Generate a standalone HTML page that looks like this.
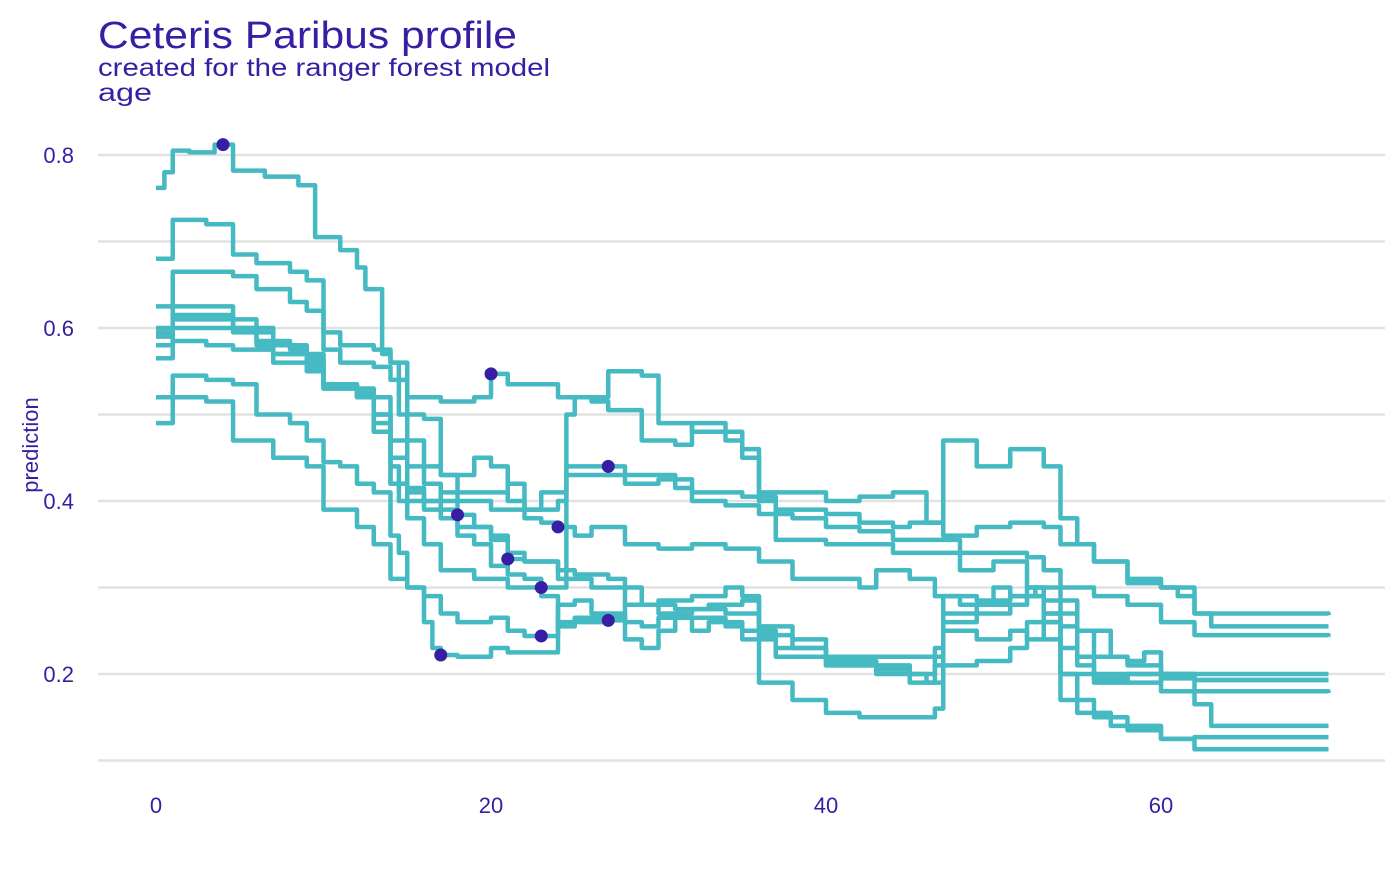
<!DOCTYPE html>
<html><head><meta charset="utf-8"><style>
body{margin:0;background:#fff;}
svg text{font-family:"Liberation Sans",Arial,sans-serif;fill:#371EA3;}
</style></head><body>
<svg id="chart" width="1400" height="866">
<text x="98" y="48" font-size="38" textLength="419" lengthAdjust="spacingAndGlyphs">Ceteris Paribus profile</text>
<text x="98" y="76" font-size="25" textLength="452" lengthAdjust="spacingAndGlyphs">created for the ranger forest model</text>
<text x="98" y="101" font-size="25" textLength="54" lengthAdjust="spacingAndGlyphs">age</text>
<text transform="translate(38,445) rotate(-90)" text-anchor="middle" font-size="22">prediction</text>
<g id="grid"></g><g id="lines"></g><g id="pts"></g><g id="ticks"></g>
</svg>
<script>
const yGrid=[0.1,0.2,0.3,0.4,0.5,0.6,0.7,0.8];
const yTickLabels=[0.2,0.4,0.6,0.8];
const xTickLabels=[0,20,40,60];
const obsAge=[4,17,23,27,18,21,24,27,23,20];
const obsPred=[0.812,0.222,0.244,0.262,0.384,0.333,0.370,0.440,0.300,0.547];
const s1=[[0,.762],[0.5,.78],[1,.805],[2,.803],[3.5,.812],[4.6,.782],[6.5,.775],[8.5,.765],[9.5,.705],[11,.69],[12,.67],[12.5,.645],[13.5,.57],[14,.56],[15,.52],[17,.515],[19,.52],[20,.547],[21,.535],[24,.52],[26,.515],[27,.505],[29,.47],[31,.465],[32,.49],[34,.47],[35,.45],[36,.41],[40,.4],[42,.405],[44,.41],[46,.375],[47,.47],[49,.44],[51,.46],[53,.44],[54,.38],[55,.35],[56,.33],[58,.305],[60,.3],[61,.29],[62,.27],[70,.268]];
const s2=[[0,.49],[1,.52],[3,.515],[4.6,.47],[7,.45],[9,.44],[10,.39],[12,.37],[13,.35],[14,.31],[15,.3],[16,.26],[16.5,.23],[17,.222],[18,.22],[20,.23],[21,.225],[24,.26],[25,.265],[28,.24],[29,.23],[30,.25],[31,.265],[34,.255],[35,.24],[37,.22],[40,.21],[43,.2],[46,.19],[47,.21],[49,.215],[51,.23],[52,.26],[53,.24],[54,.2],[55,.155],[57,.14],[58,.135],[60,.125],[62,.113],[70,.113]];
const s3=[[0,.52],[1,.545],[3,.54],[4.6,.535],[6,.5],[8,.49],[9,.47],[10,.445],[11,.44],[12,.42],[13,.41],[14,.36],[14.5,.34],[15,.3],[16,.29],[17,.27],[18,.26],[20,.265],[21,.25],[22,.244],[24,.28],[25,.285],[26,.27],[28,.26],[29,.255],[30,.265],[32,.25],[33,.26],[35,.25],[37,.23],[40,.21],[43,.205],[45,.19],[46.5,.23],[47,.26],[49,.27],[51,.28],[52,.29],[53,.26],[54,.17],[56,.15],[58,.14],[60,.125],[62,.127],[70,.127]];
const s4=[[0,.565],[1,.585],[3,.58],[4.6,.575],[7,.56],[9,.55],[10,.53],[12,.52],[13,.48],[14,.44],[14.5,.4],[15,.38],[16,.35],[17,.32],[19,.31],[21,.3],[23,.29],[24,.255],[25,.26],[27,.262],[28,.28],[30,.285],[32,.29],[34,.3],[35,.29],[36,.19],[38,.17],[40,.155],[42,.15],[46.5,.16],[47,.29],[49,.285],[51,.29],[52.5,.3],[54,.255],[55,.22],[56,.2],[58,.19],[60,.195],[62,.165],[63,.14],[70,.14]];
const s5=[[0,.6],[1,.625],[4.6,.6],[7,.57],[9,.565],[10,.53],[12,.52],[13,.5],[14,.47],[15,.44],[16,.42],[17,.4],[18,.384],[19,.37],[20,.36],[21,.34],[22,.33],[24,.32],[25,.315],[27,.31],[28,.3],[29,.28],[31,.275],[33,.28],[35,.285],[36,.245],[38,.24],[40,.22],[46,.22],[47,.25],[49,.24],[51,.25],[52,.24],[53,.26],[54,.2],[56,.19],[58,.2],[60,.18],[70,.178]];
const s6=[[0,.595],[1,.61],[4.6,.6],[6,.58],[8,.575],[9,.555],[10,.535],[12,.525],[13,.5],[14,.42],[15,.41],[16,.4],[17,.39],[18,.37],[20,.355],[21,.333],[22,.33],[24,.31],[26,.3],[28,.28],[30,.27],[32,.275],[34,.27],[36,.255],[38,.23],[40,.215],[43,.21],[45,.2],[46.5,.21],[47,.27],[49,.28],[52,.29],[53,.27],[54,.23],[55,.21],[56,.195],[58,.2],[62,.193],[70,.193]];
const s7=[[0,.68],[1,.725],[3,.72],[4.6,.685],[6,.675],[8,.665],[9,.655],[10,.595],[11,.58],[13,.575],[14,.56],[14.5,.5],[15,.47],[16,.44],[17,.43],[18,.4],[20,.39],[22,.38],[23,.375],[24,.37],[25,.36],[26,.37],[28,.35],[30,.345],[32,.35],[34,.345],[36,.33],[38,.31],[42,.3],[43,.32],[45,.31],[46.5,.29],[48,.28],[50,.3],[51,.29],[52,.3],[53,.27],[55,.25],[56,.22],[58,.21],[60,.2],[70,.2]];
const s8=[[0,.625],[1,.665],[3,.665],[4.6,.66],[6,.645],[8,.63],[9,.62],[10,.575],[11,.56],[13,.555],[14,.54],[15,.5],[16,.495],[17,.43],[19,.45],[20,.44],[21,.4],[22,.39],[24,.4],[24.5,.43],[27,.44],[28,.42],[30,.425],[32,.41],[35,.405],[37,.39],[40,.385],[42,.375],[44,.37],[45,.375],[47,.36],[49,.37],[51,.375],[53,.37],[54,.35],[56,.33],[58,.31],[60,.3],[62,.27],[63,.255],[70,.255]];
const s9=[[0,.59],[1,.615],[4.6,.61],[6,.585],[8,.58],[9,.57],[10,.535],[12,.53],[13,.52],[14,.45],[15,.415],[16,.39],[17,.38],[18,.36],[19,.35],[20,.325],[21,.315],[22,.31],[23,.3],[24.5,.44],[27,.43],[31,.415],[32,.4],[34,.395],[36,.385],[38,.38],[40,.37],[42,.365],[44,.355],[48,.34],[52,.335],[53,.32],[54,.3],[56,.29],[58,.28],[60,.26],[62,.245],[70,.243]];
const s10=[[0,.58],[1,.6],[4.6,.595],[7,.57],[9,.56],[10,.53],[12,.52],[13,.49],[14,.42],[15,.4],[17,.41],[21,.42],[22,.39],[23,.41],[24.5,.5],[25,.52],[27,.55],[29,.545],[30,.49],[32,.48],[35,.46],[36,.4],[37,.355],[40,.35],[44,.34],[48,.32],[50,.33],[52,.3],[53,.285],[55,.25],[57,.22],[58,.215],[59,.225],[60,.2],[62,.193],[70,.193]];
const series=[s1,s2,s3,s4,s5,s6,s7,s8,s9,s10];
const NS="http://www.w3.org/2000/svg";
const X=v=>156+v*16.75;
const Y=v=>155+(0.8-v)*865;
const grid=document.getElementById('grid'),lines=document.getElementById('lines'),pts=document.getElementById('pts'),ticks=document.getElementById('ticks');
yGrid.forEach(v=>{const l=document.createElementNS(NS,'line');
l.setAttribute('x1',98);l.setAttribute('x2',1385);l.setAttribute('y1',Y(v));l.setAttribute('y2',Y(v));
l.setAttribute('stroke','#e2e2e2');l.setAttribute('stroke-width',2.5);


grid.appendChild(l);});
yTickLabels.forEach(v=>{const t=document.createElementNS(NS,'text');
t.setAttribute('x',74);t.setAttribute('y',Y(v)+8);t.setAttribute('text-anchor','end');t.setAttribute('font-size',22);t.textContent=v.toFixed(1);


ticks.appendChild(t);});
xTickLabels.forEach(v=>{const t=document.createElementNS(NS,'text');
t.setAttribute('x',X(v));t.setAttribute('y',813);t.setAttribute('text-anchor','middle');t.setAttribute('font-size',22);t.textContent=v;


ticks.appendChild(t);});
series.forEach((s,i)=>{let d='M'+X(s[0][0])+','+Y(s[0][1]);
for(let k=1;k<s.length;k++){d+=' H'+X(s[k][0])+' V'+Y(s[k][1]);}
const p=document.createElementNS(NS,'path');p.setAttribute('d',d);p.setAttribute('fill','none');
p.setAttribute('stroke','#46BAC2');p.setAttribute('stroke-width',4.5);p.setAttribute('stroke-linejoin','round');


lines.appendChild(p);});
obsAge.forEach((a,i)=>{const c=document.createElementNS(NS,'circle');
c.setAttribute('cx',X(a));c.setAttribute('cy',Y(obsPred[i]));c.setAttribute('r',6.5);c.setAttribute('fill','#371EA3');


pts.appendChild(c);});
</script>
</body></html>
